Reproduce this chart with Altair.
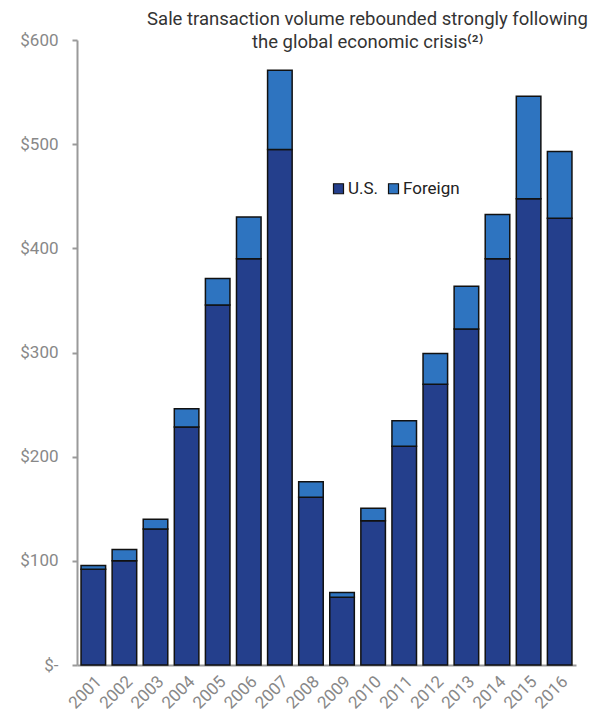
import altair as alt
import pandas as pd

years = [str(y) for y in range(2001, 2017)]
us = [92, 100, 130.5, 228.5, 345.5, 390, 495, 161, 65, 138.5, 210, 269.5, 322.5, 390, 447.5, 429]
foreign = [3.5, 11, 9.5, 17.5, 25.5, 40, 76, 15, 4.5, 12, 24.5, 29.5, 41, 42.5, 98.5, 64]
series = ["U.S.", "Foreign"]
colors = ["#243F8C", "#2E74C0"]

rows = []
for y, u, f in zip(years, us, foreign):
    rows.append({"year": y, "series": "U.S.", "value": u, "ord": 0})
    rows.append({"year": y, "series": "Foreign", "value": f, "ord": 1})
df = pd.DataFrame(rows)

FONT = "Roboto"

chart = alt.Chart(df).mark_bar(stroke="#111111", strokeWidth=1.5).encode(
    x=alt.X("year:N", sort=years, title=None,
            scale=alt.Scale(paddingInner=0.21, paddingOuter=0.13),
            axis=alt.Axis(labelAngle=-45, labelFontSize=17, labelColor="#888888",
                          labelFont=FONT, tickSize=0, labelPadding=8,
                          domainColor="#9a9a9a", domainWidth=2)),
    y=alt.Y("value:Q", stack="zero", title=None,
            scale=alt.Scale(domain=[0, 600], nice=False),
            axis=alt.Axis(values=[0, 100, 200, 300, 400, 500, 600], grid=False,
                          labelExpr="datum.value == 0 ? '$-' : '$' + datum.value",
                          labelFontSize=17, labelColor="#888888", labelFont=FONT,
                          tickSize=5, tickColor="#9a9a9a", tickWidth=2,
                          labelPadding=14, domainColor="#9a9a9a", domainWidth=2)),
    color=alt.Color("series:N", scale=alt.Scale(domain=series, range=colors),
                    legend=alt.Legend(title=None, orient="none", direction="horizontal",
                                      legendX=253, legendY=140, symbolType="square",
                                      symbolSize=100, symbolStrokeColor="#111111",
                                      symbolStrokeWidth=1.2, symbolOpacity=1,
                                      labelFontSize=17, labelColor="#222222",
                                      labelFont=FONT, labelOffset=1, columnPadding=6)),
    order=alt.Order("ord:Q", sort="ascending"),
).properties(
    width=499,
    height=625,
    title=alt.TitleParams(
        text=["Sale transaction volume rebounded strongly following",
              "the global economic crisis\u207d\u00b2\u207e"],
        anchor="middle", dx=41, fontSize=18.5, font=FONT, fontWeight="normal",
        color="#333333", lineHeight=23, offset=-20),
    autosize=alt.AutoSizeParams(type="none"),
    padding={"left": 69, "top": 32, "right": 15, "bottom": 50},
).configure_view(stroke=None)

chart.save("out.html", embed_options={"renderer": "svg", "actions": False})
